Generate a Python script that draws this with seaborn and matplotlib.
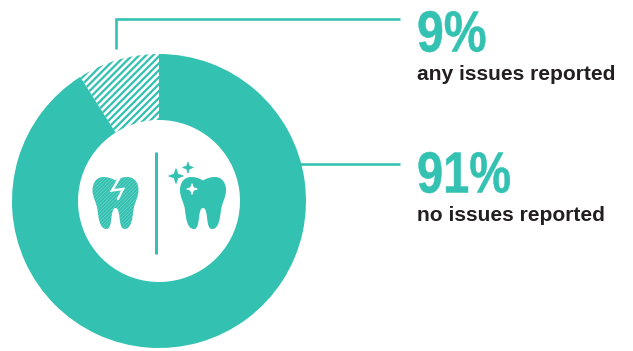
import matplotlib
matplotlib.use("Agg")
import matplotlib.pyplot as plt
from matplotlib.path import Path
from matplotlib.patches import PathPatch
from matplotlib.patheffects import AbstractPathEffect
from matplotlib.transforms import Affine2D
import seaborn as sns

# Survey shares
shares = [9, 91]
captions = ["any issues reported", "no issues reported"]

W, H, DPI = 633, 351, 125
TEAL = "#33c1b1"
INK = "#231f20"

sns.set_theme(style="white")
plt.rcParams["font.family"] = ["Liberation Sans", "DejaVu Sans"]
plt.rcParams["hatch.linewidth"] = 1.3

fig = plt.figure(figsize=(W / DPI, H / DPI), dpi=DPI)
ax = fig.add_axes([0, 0, 1, 1])
ax.set_xlim(0, W)
ax.set_ylim(0, H)
ax.axis("off")


def Y(y):
    """Canvas position measured from the top edge."""
    return H - y


class Condense(AbstractPathEffect):
    """Squeeze text horizontally about its left anchor and thicken its strokes."""

    def __init__(self, anchor_x, factor, stroke):
        super().__init__()
        self.anchor_x = anchor_x
        self.factor = factor
        self.stroke = stroke

    def draw_path(self, renderer, gc, tpath, affine, rgbFace=None):
        squeeze = (Affine2D().translate(-self.anchor_x, 0)
                   .scale(self.factor, 1).translate(self.anchor_x, 0))
        gc0 = renderer.new_gc()
        gc0.copy_properties(gc)
        gc0.set_linewidth(self.stroke)
        gc0.set_foreground(rgbFace)
        renderer.draw_path(gc0, tpath, affine + squeeze, rgbFace)
        gc0.restore()


class FineHatchPatch(PathPatch):
    """PathPatch whose stripes are thinner than the figure-wide default."""

    def draw(self, renderer):
        with plt.rc_context({"hatch.linewidth": 0.85}):
            super().draw(renderer)


cx, cy, r_out, r_in = 159, 201, 147, 81

wedges, _ = ax.pie(
    shares,
    startangle=90,
    counterclock=True,
    radius=r_out,
    center=(cx, Y(cy)),
    colors=["white", TEAL],
    wedgeprops=dict(width=r_out - r_in, linewidth=0, edgecolor=TEAL),
    frame=False,
)
wedges[0].set_hatch("//////")
wedges[0].set_edgecolor(TEAL)
ax.set_xlim(0, W)
ax.set_ylim(0, H)
ax.set_aspect("auto")

# Leader lines from the ring to the labels
lw = 2.6 * 72 / DPI
ax.plot([116, 116, 400], [Y(49), Y(19), Y(19)], color=TEAL, lw=lw,
        solid_joinstyle="miter", solid_capstyle="butt")
ax.plot([300, 400], [Y(163.5), Y(163.5)], color=TEAL, lw=lw, solid_capstyle="butt")

# Divider between the two icons
ax.plot([156, 156], [Y(152), Y(254)], color=TEAL, lw=3 * 72 / DPI, solid_capstyle="butt")

# Tooth outline, one cubic segment per stretch of the crown and roots
TOOTH = [
    (23, 3.5),
    (27, 1), (31, 0), (35, 0),
    (42, 0), (46, 6), (46, 13),
    (46, 21), (42, 25), (41, 33),
    (40, 41), (39, 52), (32, 52),
    (25, 52), (29, 31), (23, 31),
    (17, 31), (21, 52), (14, 52),
    (7, 52), (6, 41), (5, 33),
    (4, 25), (0, 21), (0, 13),
    (0, 6), (4, 0), (11, 0),
    (15, 0), (19, 1), (23, 3.5),
]
CODES = [Path.MOVETO] + [Path.CURVE4] * (len(TOOTH) - 1)


def tooth_path(x0, y0):
    return Path([(x0 + x, Y(y0 + y)) for x, y in TOOTH], CODES)


def sparkle(x, y, r, color):
    k = r * 0.26
    pts = [(x, y + r), (x + k, y + k), (x + r, y), (x + k, y - k),
           (x, y - r), (x - k, y - k), (x - r, y), (x - k, y + k), (x, y + r)]
    ax.add_patch(PathPatch(Path([(px, Y(py)) for px, py in pts]),
                           facecolor=color, edgecolor=color, lw=0.4))


# Cracked tooth with fine stripes
ax.add_patch(FineHatchPatch(tooth_path(92.5, 177), facecolor="white",
                            edgecolor=TEAL, hatch="/" * 12, lw=0))
ax.plot([120, 112, 123, 118], [Y(177), Y(190.5), Y(189), Y(199)], color="white",
        lw=2.4 * 72 / DPI, solid_joinstyle="miter")

# Healthy tooth with sparkles
ax.add_patch(PathPatch(tooth_path(180, 177), facecolor=TEAL, edgecolor=TEAL, lw=0))
sparkle(176, 176, 7.5, TEAL)
sparkle(188, 167.5, 5.5, TEAL)
sparkle(192, 189, 5.5, "white")

# Value and caption pairs
big_px, small_px = 58, 21
for value, caption, x, base_big, base_small, squeeze in zip(
    shares, captions, (417, 417), (51.5, 192.5), (80, 221), (0.83, 0.81)
):
    ax.text(x, Y(base_big), f"{value}%", color=TEAL, fontweight="bold",
            fontsize=big_px * 72 / DPI, va="baseline", ha="left",
            path_effects=[Condense(x, squeeze, 0.3)])
    ax.text(x, Y(base_small), caption, color=INK, fontweight="bold",
            fontsize=small_px * 72 / DPI, va="baseline", ha="left")

fig.savefig("out.png", dpi=DPI)
